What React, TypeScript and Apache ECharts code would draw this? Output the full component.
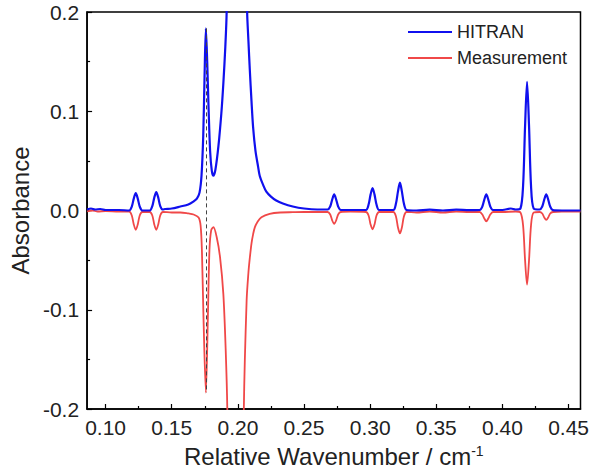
import React, { useEffect, useRef } from "react";
import * as echarts from "echarts";

const FONT = "'Liberation Sans', Arial, Helvetica, sans-serif";

// Axis ticks / labels
const xMajorTicks = [0.1, 0.15, 0.2, 0.25, 0.3, 0.35, 0.4, 0.45];
const xMinorTicks = [0.125, 0.175, 0.225, 0.275, 0.325, 0.375, 0.425];
const xRange = [0.086, 0.459];
const yRange = [-0.2, 0.2];

// Dashed marker line (x position, top and bottom values)
const dashX = 0.1758;
const dashTop = 0.1835;
const dashBottom = -0.1835;

// HITRAN spectrum
const hitran: [number, number][] = [
  [0.086, 0.001], [0.089, 0.002], [0.092, 0.001], [0.096, 0.0015], [0.1, 0.0005], [0.11, 0.0005],
  [0.1178, 0.0], [0.1198, 0.004], [0.1213, 0.012], [0.1228, 0.0175], [0.1243, 0.012], [0.1258, 0.004], [0.1278, 0.0],
  [0.1333, 0.0], [0.1353, 0.0045], [0.1368, 0.013], [0.1383, 0.0185], [0.1398, 0.013], [0.1413, 0.0045], [0.1433, 0.001],
  [0.145, 0.0015], [0.15, 0.002], [0.1565, 0.004], [0.1625, 0.006], [0.1663, 0.009], [0.169, 0.012], [0.171, 0.018],
  [0.1725, 0.035], [0.1738, 0.075], [0.1748, 0.135], [0.1758, 0.1835], [0.1768, 0.15], [0.1778, 0.105], [0.179, 0.06],
  [0.1803, 0.04], [0.1815, 0.035], [0.183, 0.041], [0.1853, 0.065], [0.1875, 0.098], [0.189, 0.128], [0.1905, 0.165],
  [0.1915, 0.2], [0.1935, 0.4], [0.199, 0.8], [0.2045, 0.4], [0.207, 0.2], [0.208, 0.17], [0.209, 0.142], [0.2103, 0.11],
  [0.2115, 0.084], [0.2133, 0.06], [0.2153, 0.044], [0.2165, 0.035], [0.219, 0.026], [0.2215, 0.019], [0.225, 0.014],
  [0.229, 0.01], [0.234, 0.007], [0.2415, 0.004], [0.25, 0.002], [0.26, 0.001],
  [0.2678, 0.001], [0.2698, 0.004], [0.2713, 0.011], [0.2728, 0.0162], [0.2743, 0.011], [0.2758, 0.004], [0.2778, 0.0005],
  [0.285, 0.0005],
  [0.2968, 0.0005], [0.2988, 0.006], [0.3003, 0.016], [0.3018, 0.0226], [0.3033, 0.016], [0.3048, 0.006], [0.3068, 0.0005],
  [0.3175, 0.0005], [0.3195, 0.007], [0.321, 0.019], [0.3225, 0.028], [0.324, 0.019], [0.3255, 0.007], [0.3275, 0.0005],
  [0.335, 0.0], [0.345, 0.0008], [0.355, 0.0], [0.365, 0.0008], [0.375, 0.0003],
  [0.3828, 0.0005], [0.3848, 0.004], [0.3863, 0.011], [0.3878, 0.0162], [0.3893, 0.011], [0.3908, 0.004], [0.3928, 0.0005],
  [0.4, 0.0005], [0.4064, 0.002], [0.41, 0.001],
  [0.4136, 0.002], [0.4156, 0.025], [0.4171, 0.085], [0.4186, 0.1296], [0.4201, 0.085], [0.4216, 0.025], [0.4236, 0.002],
  [0.4281, 0.001], [0.4301, 0.004], [0.4316, 0.011], [0.4331, 0.0162], [0.4346, 0.011], [0.4361, 0.004], [0.4381, 0.0003],
  [0.445, 0.0], [0.459, 0.0],
];

const measurement: [number, number][] = [
  [0.086, -0.001], [0.09, 0.0], [0.094, -0.001], [0.1, -0.0005], [0.11, -0.001],
  [0.1178, -0.001], [0.1198, -0.005], [0.1213, -0.014], [0.1228, -0.0195], [0.1243, -0.014], [0.1258, -0.005], [0.1278, -0.0015],
  [0.1333, -0.0015], [0.1353, -0.005], [0.1368, -0.014], [0.1383, -0.0195], [0.1398, -0.014], [0.1413, -0.005], [0.1433, -0.0015],
  [0.15, -0.002], [0.1565, -0.002], [0.1625, -0.003], [0.1665, -0.004], [0.1703, -0.007], [0.1718, -0.015],
  [0.1728, -0.04], [0.174, -0.108], [0.1758, -0.1835], [0.1773, -0.108], [0.1785, -0.04], [0.1798, -0.02],
  [0.1815, -0.0168], [0.184, -0.027], [0.1865, -0.047], [0.189, -0.084], [0.1908, -0.141], [0.192, -0.2],
  [0.195, -0.5], [0.1985, -0.8], [0.202, -0.5], [0.2045, -0.2], [0.2066, -0.091], [0.208, -0.062], [0.209, -0.048],
  [0.2103, -0.033], [0.2115, -0.024], [0.2128, -0.017], [0.215, -0.011], [0.2178, -0.0067], [0.224, -0.0034],
  [0.232, -0.002], [0.2415, -0.0017], [0.25, -0.0015],
  [0.2678, -0.0015], [0.2698, -0.004], [0.2713, -0.01], [0.2728, -0.0135], [0.2743, -0.01], [0.2758, -0.004], [0.2778, -0.0015],
  [0.285, -0.0012],
  [0.2968, -0.0015], [0.2988, -0.005], [0.3003, -0.014], [0.3018, -0.019], [0.3033, -0.014], [0.3048, -0.005], [0.3068, -0.0015],
  [0.3175, -0.0015], [0.3195, -0.006], [0.321, -0.017], [0.3225, -0.023], [0.324, -0.017], [0.3255, -0.006], [0.3275, -0.0015],
  [0.335, -0.002], [0.345, -0.001], [0.355, -0.002], [0.365, -0.001], [0.375, -0.0015],
  [0.3828, -0.0015], [0.3848, -0.004], [0.3863, -0.008], [0.3878, -0.011], [0.3893, -0.008], [0.3908, -0.004], [0.3928, -0.0015],
  [0.4, -0.0015], [0.41, -0.001],
  [0.4136, -0.002], [0.4156, -0.015], [0.4171, -0.05], [0.4186, -0.0747], [0.4201, -0.05], [0.4216, -0.015], [0.4236, -0.002],
  [0.4281, -0.0015], [0.4301, -0.003], [0.4316, -0.007], [0.4331, -0.0094], [0.4346, -0.007], [0.4361, -0.003], [0.4381, -0.0015],
  [0.445, -0.001], [0.459, -0.001],
];

const seriesNames = ["HITRAN", "Measurement"];
const BLUE = "#1010ee";
const RED = "#f04848";
const TEXT = "#222";

export default function App() {
  const ref = useRef<HTMLDivElement>(null);
  useEffect(() => {
    if (!ref.current) return;
    const chart = echarts.init(ref.current, undefined, { renderer: "svg" });
    chart.setOption({
      animation: false,
      backgroundColor: "#fff",
      grid: {
        left: 86,
        right: 11,
        top: 12,
        bottom: 66,
        show: true,
        borderColor: "#000",
        borderWidth: 1.5,
        backgroundColor: "transparent",
      },
      legend: {
        orient: "vertical",
        left: 407,
        top: 23,
        padding: 0,
        itemWidth: 44,
        itemHeight: 14,
        itemGap: 8,
        itemStyle: { opacity: 0 },
        textStyle: { fontSize: 18, color: TEXT, fontFamily: FONT },
        data: seriesNames,
      },
      xAxis: [
        {
          type: "value",
          min: xRange[0],
          max: xRange[1],
          name: "{t|Relative Wavenumber / cm}{s|-1}",
          nameLocation: "middle",
          nameGap: 35,
          nameTextStyle: {
            rich: {
              t: { fontSize: 24, color: TEXT, fontFamily: FONT },
              s: { fontSize: 14, color: TEXT, fontFamily: FONT, verticalAlign: "top" },
            },
          },
          axisLine: { onZero: false, lineStyle: { color: "#000", width: 1.5 } },
          axisTick: { inside: true, length: 5, customValues: xMajorTicks, lineStyle: { color: "#000", width: 1.2 } },
          axisLabel: {
            customValues: xMajorTicks,
            formatter: (v: number) => v.toFixed(2),
            fontSize: 21,
            color: TEXT,
            fontFamily: FONT,
            margin: 8,
          },
          splitLine: { show: false },
        },
        {
          type: "value",
          position: "bottom",
          min: xRange[0],
          max: xRange[1],
          axisLine: { show: false, onZero: false },
          axisTick: { inside: true, length: 3, customValues: xMinorTicks, lineStyle: { color: "#000", width: 1.2 } },
          axisLabel: { show: false },
          splitLine: { show: false },
        },
      ],
      yAxis: {
        type: "value",
        min: yRange[0],
        max: yRange[1],
        interval: 0.1,
        name: "Absorbance",
        nameLocation: "middle",
        nameRotate: 90,
        nameGap: 51,
        nameTextStyle: { fontSize: 24, color: TEXT, fontFamily: FONT },
        axisLine: { lineStyle: { color: "#000", width: 1.5 } },
        axisTick: { inside: true, length: 5, lineStyle: { color: "#000", width: 1.2 } },
        minorTick: { show: true, splitNumber: 2, length: 3, lineStyle: { color: "#000", width: 1.2 } },
        axisLabel: {
          formatter: (v: number) => v.toFixed(1),
          fontSize: 21,
          color: TEXT,
          fontFamily: FONT,
          margin: 8,
        },
        splitLine: { show: false },
      },
      series: [
        {
          name: seriesNames[0],
          type: "line",
          data: hitran,
          symbol: "none",
          smooth: 0.3,
          clip: true,
          lineStyle: { color: BLUE, width: 2.2 },
          itemStyle: { color: BLUE },
          z: 3,
          markLine: {
            silent: true,
            symbol: ["none", "none"],
            label: { show: false },
            lineStyle: { color: "#444", width: 1, type: [4, 3] },
            data: [[{ coord: [dashX, dashTop] }, { coord: [dashX, dashBottom] }]],
          },
        },
        {
          name: seriesNames[1],
          type: "line",
          data: measurement,
          symbol: "none",
          smooth: 0.3,
          clip: true,
          lineStyle: { color: RED, width: 1.8 },
          itemStyle: { color: RED },
          z: 2,
        },
      ],
    });
    return () => chart.dispose();
  }, []);
  return (
    <div
      ref={ref}
      style={{ position: "fixed", left: 0, top: 0, width: 592, height: 475 }}
    />
  );
}
